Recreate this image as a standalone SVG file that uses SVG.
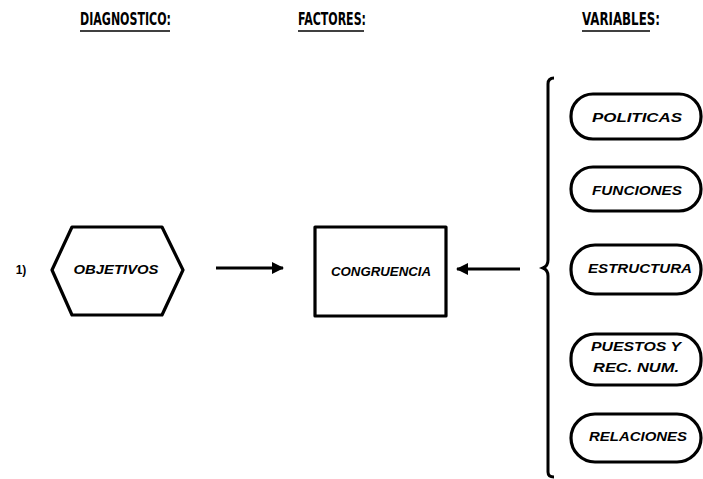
<svg xmlns="http://www.w3.org/2000/svg" width="703" height="479" viewBox="0 0 703 479">
<defs>
<marker id="ah" markerWidth="12" markerHeight="12" refX="11" refY="6" orient="auto" markerUnits="userSpaceOnUse">
<path d="M0,0 L12,6 L0,12 Z" fill="#000"/>
</marker>
<style>
.hdr{font-family:"DejaVu Sans Condensed","Liberation Sans",sans-serif;font-size:17px;font-weight:bold;fill:#000}
.ul{stroke:#000;stroke-width:1.6}
.shape{fill:none;stroke:#000;stroke-width:3.2;stroke-linejoin:round}
.lbl{font-family:"Liberation Sans",Arial,sans-serif;font-size:12px;font-weight:bold;font-style:italic;fill:#000;text-anchor:middle;dominant-baseline:central}
.conn{stroke:#000;stroke-width:3;fill:none}
</style>
</defs>
<rect width="703" height="479" fill="#fff"/>
<g id="headers">
<text class="hdr" x="80" y="25" textLength="91" lengthAdjust="spacingAndGlyphs">DIAGNOSTICO:</text>
<line class="ul" x1="80" y1="31" x2="170" y2="31"/>
<text class="hdr" x="298" y="25" textLength="68" lengthAdjust="spacingAndGlyphs">FACTORES:</text>
<line class="ul" x1="298" y1="31" x2="364" y2="31"/>
<text class="hdr" x="582" y="25" textLength="78" lengthAdjust="spacingAndGlyphs">VARIABLES:</text>
<line class="ul" x1="582" y1="31" x2="650" y2="31"/>
</g>
<g id="num">
<text class="lbl" x="21" y="270" style="font-style:normal">1)</text>
</g>
<g id="objetivos">
<polygon class="shape" points="52,270 72,227 162,227 183,270 162,315 72,315"/>
<text class="lbl" x="116" y="270" textLength="85" lengthAdjust="spacingAndGlyphs">OBJETIVOS</text>
</g>
<g id="congruencia">
<rect class="shape" x="315" y="227" width="131" height="89"/>
<text class="lbl" x="381" y="272" textLength="100" lengthAdjust="spacingAndGlyphs">CONGRUENCIA</text>
</g>
<g id="connectors">
<line class="conn" x1="216" y1="268" x2="283" y2="268" marker-end="url(#ah)"/>
<line class="conn" x1="520" y1="269" x2="457" y2="269" marker-end="url(#ah)"/>
</g>
<g id="brace">
<path class="conn" stroke-width="2.5" d="M554,78 Q548,78 548,84 L548,260 Q548,266 543,268 Q548,270 548,276 L548,472 Q548,477 554,477"/>
</g>
<g id="politicas">
<rect class="shape" x="571" y="94" width="130" height="45" rx="22"/>
<text class="lbl" x="637" y="118" textLength="90" lengthAdjust="spacingAndGlyphs">POLITICAS</text>
</g>
<g id="funciones">
<rect class="shape" x="571" y="167" width="130" height="44" rx="22"/>
<text class="lbl" x="637" y="191" textLength="90" lengthAdjust="spacingAndGlyphs">FUNCIONES</text>
</g>
<g id="estructura">
<rect class="shape" x="571" y="245" width="130" height="49" rx="24"/>
<text class="lbl" x="640" y="269" textLength="104" lengthAdjust="spacingAndGlyphs">ESTRUCTURA</text>
</g>
<g id="puestos">
<rect class="shape" x="571" y="334" width="130" height="51" rx="24"/>
<text class="lbl" x="636" y="347" textLength="90" lengthAdjust="spacingAndGlyphs">PUESTOS Y</text>
<text class="lbl" x="636" y="368" textLength="86" lengthAdjust="spacingAndGlyphs">REC.  NUM.</text>
</g>
<g id="relaciones">
<rect class="shape" x="571" y="414" width="130" height="48" rx="24"/>
<text class="lbl" x="638" y="437" textLength="98" lengthAdjust="spacingAndGlyphs">RELACIONES</text>
</g>
</svg>
